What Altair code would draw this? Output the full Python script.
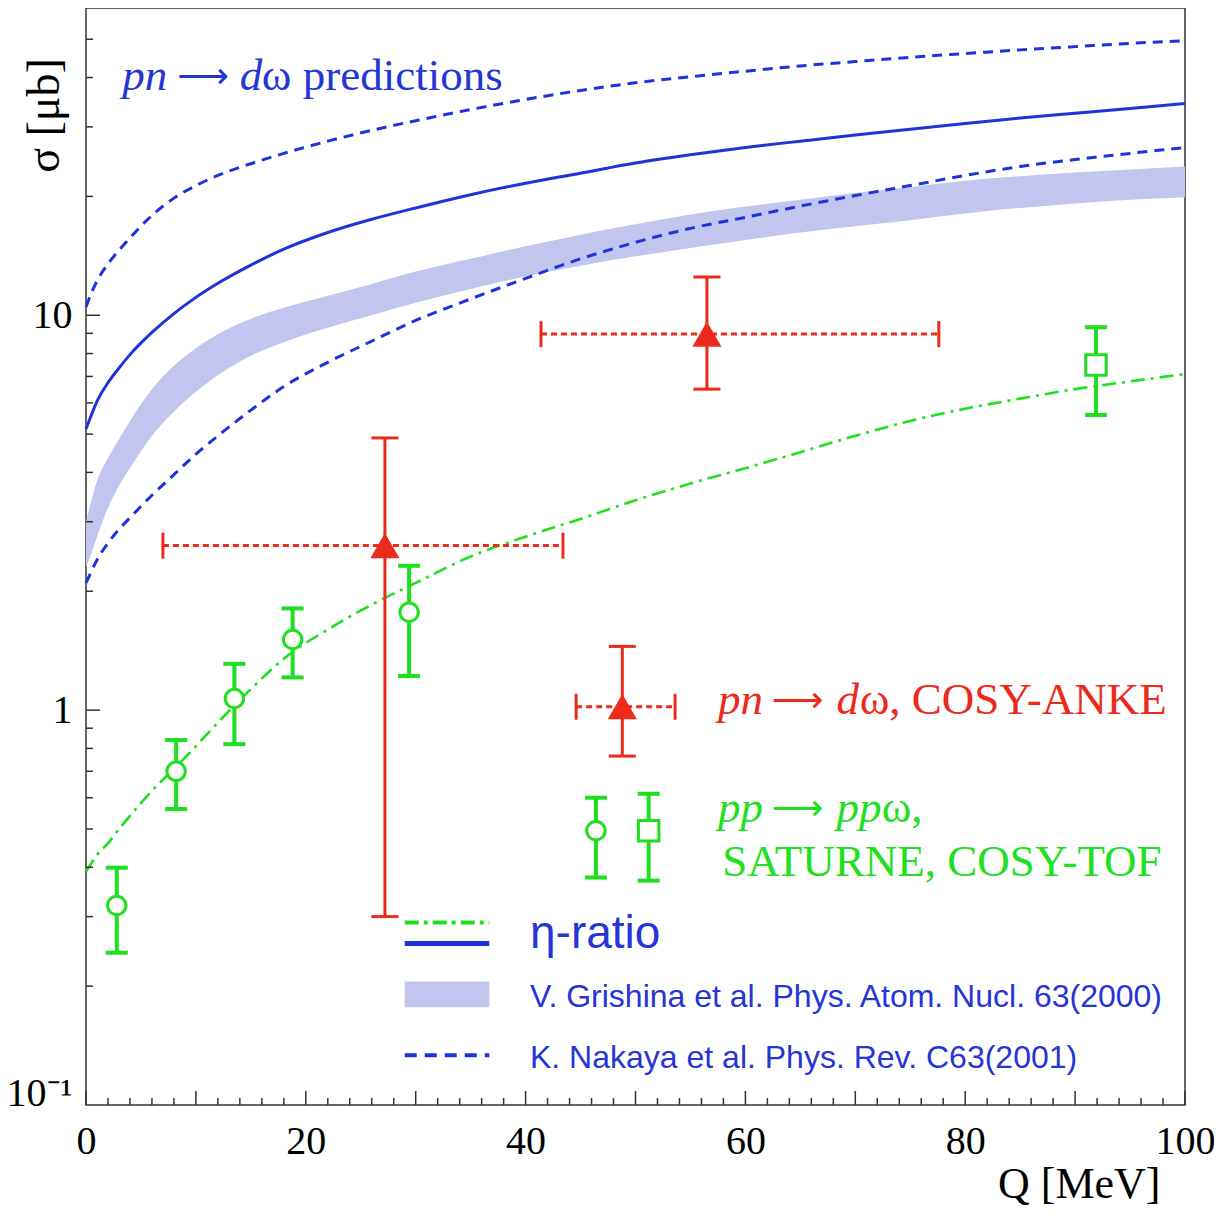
import altair as alt
import pandas as pd

# ---------------- data ----------------
Q_GRID = [0, 0.5, 1, 2, 3, 4, 6, 8, 10, 12, 15, 18, 22, 26, 30, 35, 40, 45, 50,
          55, 60, 65, 70, 75, 80, 85, 90, 95, 100]
NAKAYA_HI = [10.5, 11.4, 12.2, 13.5, 14.6, 15.7, 17.9, 19.8, 21.3, 22.6, 24.2, 25.7,
             27.6, 29.4, 31.1, 33.2, 35.2, 37.1, 38.8, 40.2, 41.5, 42.8, 43.9, 45.0,
             46.0, 47.0, 47.9, 48.8, 49.6]
NAKAYA_LO = [2.1, 2.25, 2.4, 2.65, 2.87, 3.07, 3.5, 3.95, 4.45, 4.95, 5.75, 6.6, 7.6,
             8.6, 9.7, 11.0, 12.4, 13.9, 15.3, 16.6, 17.7, 18.9, 20.1, 21.3, 22.6,
             23.8, 24.8, 25.7, 26.6]
ETA_RATIO_PN = [5.15, 5.6, 6.05, 6.75, 7.35, 7.95, 9.05, 10.1, 11.1, 12.05, 13.4, 14.7,
                16.2, 17.5, 18.7, 20.2, 21.6, 22.9, 24.3, 25.5, 26.6, 27.6, 28.6,
                29.6, 30.6, 31.6, 32.5, 33.4, 34.4]
GRISHINA_HI = [3.0, 3.4, 3.8, 4.35, 4.85, 5.4, 6.5, 7.45, 8.25, 8.95, 9.8, 10.45, 11.2,
               12.0, 12.9, 13.9, 14.95, 16.0, 17.0, 18.0, 18.85, 19.6, 20.4, 21.1,
               21.9, 22.5, 23.0, 23.4, 23.8]
GRISHINA_LO = [2.3, 2.5, 2.75, 3.25, 3.7, 4.1, 4.95, 5.7, 6.4, 7.05, 7.9, 8.55, 9.3,
               10.0, 10.75, 11.65, 12.55, 13.35, 14.1, 14.8, 15.5, 16.2, 16.8, 17.4,
               18.1, 18.7, 19.2, 19.6, 19.9]
ETA_RATIO_PP = [0.39, 0.41, 0.43, 0.46, 0.50, 0.54, 0.625, 0.71, 0.81, 0.93, 1.13,
                1.35, 1.6, 1.85, 2.1, 2.45, 2.75, 3.05, 3.4, 3.75, 4.1, 4.5, 4.95,
                5.4, 5.8, 6.15, 6.5, 6.8, 7.1]

SATURNE_Q = [2.8, 8.2, 13.5, 18.8, 29.4]
SATURNE_SIGMA = [0.32, 0.70, 1.07, 1.51, 1.77]
SATURNE_LO = [0.243, 0.562, 0.82, 1.21, 1.22]
SATURNE_HI = [0.399, 0.84, 1.31, 1.81, 2.32]

TOF_Q = [91.9]
TOF_SIGMA = [7.48]
TOF_LO = [5.59]
TOF_HI = [9.33]

ANKE_Q = [27.2, 56.5]
ANKE_SIGMA = [2.61, 8.96]
ANKE_LO = [0.30, 6.5]
ANKE_HI = [4.89, 12.5]
ANKE_QLO = [7.0, 41.4]
ANKE_QHI = [43.4, 77.6]

# legend sample symbols (in data units)
LEG_ANKE = dict(Q=48.8, sigma=1.02, lo=0.765, hi=1.45, qlo=44.6, qhi=53.6)
LEG_SATURNE = dict(Q=46.4, sigma=0.495, lo=0.377, hi=0.60)
LEG_TOF = dict(Q=51.2, sigma=0.495, lo=0.370, hi=0.614)
LEG_LINE_Q = [29.0, 36.7]
LEG_GREEN_Y = 0.29
LEG_BLUE_Y = 0.2565
LEG_DASH_Y = 0.1337
LEG_BAND_Y = [0.1768, 0.2056]

# texts
TEXT_SERIF_IT = [("pn", 3.3, 37.2, "blue"), ("d", 14.0, 37.2, "blue"),
                 ("pn", 57.5, 0.978, "red"), ("d", 68.3, 0.978, "red"),
                 ("pp", 57.5, 0.52, "green"), ("pp", 68.3, 0.52, "green")]
TEXT_SERIF = [("ω predictions", 16.0, 37.2, "blue"),
              ("ω, COSY-ANKE", 70.4, 0.978, "red"),
              ("ω,", 72.4, 0.52, "green"),
              ("SATURNE, COSY-TOF", 57.9, 0.381, "green")]
TEXT_ARROW = [("⟶", 8.3, 37.2, "blue"), ("⟶", 62.4, 0.978, "red"), ("⟶", 62.4, 0.52, "green")]
TEXT_SANS = [("η-ratio", 40.4, 0.2493, 46), ("V. Grishina et al. Phys. Atom. Nucl. 63(2000)", 40.4, 0.1768, 32),
             ("K. Nakaya et al. Phys. Rev. C63(2001)", 40.4, 0.124, 32)]

X_MAJOR = [0, 10, 20, 30, 40, 50, 60, 70, 80, 90, 100]
X_MINOR = [q for q in range(2, 100, 2) if q % 10 != 0]
Y_MAJOR = [1, 10]
Y_MINOR = [0.2, 0.3, 0.4, 0.5, 0.6, 0.7, 0.8, 0.9, 2, 3, 4, 5, 6, 7, 8, 9, 20, 30, 40, 50]

# ---------------- style ----------------
BLUE = "#1f33dc"
TXT_BLUE = "#2535d8"
RED = "#ec2a1c"
GREEN = "#1ee01e"
BAND = "#c2c5ee"
AXC = "#333333"
SERIF = "Liberation Serif"
SANS = "Liberation Sans"
COLORS = {"blue": TXT_BLUE, "red": RED, "green": GREEN}
W, H = 1099, 1097

XS = alt.Scale(domain=[0, 100], nice=False, zero=False)
YS = alt.Scale(type="log", domain=[0.1, 60], nice=False)

XAX = alt.Axis(values=[0, 20, 40, 60, 80, 100], labelFlush=False, ticks=False, domain=False,
               grid=False, labelFont=SERIF, labelFontSize=40, labelColor="black",
               labelPadding=16, title="Q [MeV]", titleFont=SERIF, titleFontSize=44,
               titleFontWeight="normal", titleColor="black", titleX=1074, titleY=92,
               titleAlign="right", titleBaseline="alphabetic", titleAnchor="end")
YAX = alt.Axis(values=[0.1, 1, 10],
               labelExpr="datum.value < 0.5 ? '10⁻¹' : (datum.value < 5 ? '1' : '10')",
               ticks=False, domain=False, grid=False, labelFont=SERIF, labelFontSize=40,
               labelColor="black", labelPadding=14, labelBaseline="middle",
               labelOffset={"condition": {"test": "datum.value < 0.5", "value": -12}, "value": 0},
               title="σ [μb]", titleFont=SERIF, titleFontSize=46, titleFontWeight="normal",
               titleColor="black", titleAngle=270, titleX=-28, titleY=107,
               titleAlign="center", titleBaseline="alphabetic")


def X(f):
    return alt.X(f, scale=XS, axis=XAX)


def Y(f):
    return alt.Y(f, scale=YS, axis=YAX)


# ---------------- tables ----------------
band_df = pd.DataFrame({"Q": Q_GRID, "lo": GRISHINA_LO, "hi": GRISHINA_HI})
nak_df = pd.concat([
    pd.DataFrame({"Q": Q_GRID, "v": NAKAYA_HI, "curve": "hi"}),
    pd.DataFrame({"Q": Q_GRID, "v": NAKAYA_LO, "curve": "lo"}),
])
pn_df = pd.DataFrame({"Q": Q_GRID, "v": ETA_RATIO_PN})
pp_df = pd.DataFrame({"Q": Q_GRID, "v": ETA_RATIO_PP})

anke_df = pd.DataFrame({
    "Q": ANKE_Q + [LEG_ANKE["Q"]], "sigma": ANKE_SIGMA + [LEG_ANKE["sigma"]],
    "lo": ANKE_LO + [LEG_ANKE["lo"]], "hi": ANKE_HI + [LEG_ANKE["hi"]],
    "qlo": ANKE_QLO + [LEG_ANKE["qlo"]], "qhi": ANKE_QHI + [LEG_ANKE["qhi"]]})
sat_df = pd.DataFrame({
    "Q": SATURNE_Q + [LEG_SATURNE["Q"]], "sigma": SATURNE_SIGMA + [LEG_SATURNE["sigma"]],
    "lo": SATURNE_LO + [LEG_SATURNE["lo"]], "hi": SATURNE_HI + [LEG_SATURNE["hi"]]})
tof_df = pd.DataFrame({
    "Q": TOF_Q + [LEG_TOF["Q"]], "sigma": TOF_SIGMA + [LEG_TOF["sigma"]],
    "lo": TOF_LO + [LEG_TOF["lo"]], "hi": TOF_HI + [LEG_TOF["hi"]]})
green_err = pd.concat([sat_df, tof_df])

leg_green = pd.DataFrame({"Q": LEG_LINE_Q, "v": [LEG_GREEN_Y] * 2})
leg_blue = pd.DataFrame({"Q": LEG_LINE_Q, "v": [LEG_BLUE_Y] * 2})
leg_dash = pd.DataFrame({"Q": LEG_LINE_Q, "v": [LEG_DASH_Y] * 2})
leg_band = pd.DataFrame({"Q": [LEG_LINE_Q[0]], "Q2": [LEG_LINE_Q[1]],
                         "lo": [LEG_BAND_Y[0]], "hi": [LEG_BAND_Y[1]]})

t_it = pd.DataFrame([{"t": t, "Q": q, "v": v, "c": COLORS[c]} for t, q, v, c in TEXT_SERIF_IT])
t_rm = pd.DataFrame([{"t": t, "Q": q, "v": v, "c": COLORS[c]} for t, q, v, c in TEXT_SERIF])
t_arrow = pd.DataFrame([{"t": t, "Q": q, "v": v, "c": COLORS[c]} for t, q, v, c in TEXT_ARROW])
t_sans = pd.DataFrame([{"t": t, "Q": q, "v": v, "fs": fs} for t, q, v, fs in TEXT_SANS])

# ---------------- layers ----------------
layers = []
layers.append(alt.Chart(band_df).mark_area(color=BAND, opacity=1, interpolate="monotone")
              .encode(x=X("Q:Q"), y=Y("lo:Q"), y2="hi:Q"))
layers.append(alt.Chart(nak_df).mark_line(color=BLUE, strokeWidth=3, strokeDash=[10, 7],
                                          interpolate="monotone")
              .encode(x=X("Q:Q"), y=Y("v:Q"), detail="curve:N"))
layers.append(alt.Chart(pn_df).mark_line(color=BLUE, strokeWidth=3, interpolate="monotone")
              .encode(x=X("Q:Q"), y=Y("v:Q")))
layers.append(alt.Chart(pp_df).mark_line(color=GREEN, strokeWidth=2.6, strokeDash=[14, 6, 3, 6],
                                         interpolate="monotone")
              .encode(x=X("Q:Q"), y=Y("v:Q")))

# legend samples
layers.append(alt.Chart(leg_band).mark_rect(color=BAND, opacity=1)
              .encode(x=X("Q:Q"), x2="Q2:Q", y=Y("lo:Q"), y2="hi:Q"))
layers.append(alt.Chart(leg_green).mark_line(color=GREEN, strokeWidth=4, strokeDash=[14, 5, 4, 5])
              .encode(x=X("Q:Q"), y=Y("v:Q")))
layers.append(alt.Chart(leg_blue).mark_line(color=BLUE, strokeWidth=5)
              .encode(x=X("Q:Q"), y=Y("v:Q")))
layers.append(alt.Chart(leg_dash).mark_line(color=BLUE, strokeWidth=4, strokeDash=[12, 8])
              .encode(x=X("Q:Q"), y=Y("v:Q")))

# ANKE error bars
layers.append(alt.Chart(anke_df).mark_rule(color=RED, strokeWidth=3, strokeDash=[6, 4])
              .encode(x=X("qlo:Q"), x2="qhi:Q", y=Y("sigma:Q")))
for f in ["qlo", "qhi"]:
    layers.append(alt.Chart(anke_df).mark_tick(color=RED, orient="vertical", size=26,
                                               thickness=3, opacity=1)
                  .encode(x=X(f + ":Q"), y=Y("sigma:Q")))
layers.append(alt.Chart(anke_df).mark_rule(color=RED, strokeWidth=3)
              .encode(x=X("Q:Q"), y=Y("lo:Q"), y2="hi:Q"))
for f in ["lo", "hi"]:
    layers.append(alt.Chart(anke_df).mark_tick(color=RED, orient="horizontal", size=27,
                                               thickness=3, opacity=1)
                  .encode(x=X("Q:Q"), y=Y(f + ":Q")))
layers.append(alt.Chart(anke_df).mark_point(shape="triangle-up", filled=True, color=RED,
                                            size=850, opacity=1)
              .encode(x=X("Q:Q"), y=Y("sigma:Q")))

# green error bars
layers.append(alt.Chart(green_err).mark_rule(color=GREEN, strokeWidth=4)
              .encode(x=X("Q:Q"), y=Y("lo:Q"), y2="hi:Q"))
for f in ["lo", "hi"]:
    layers.append(alt.Chart(green_err).mark_tick(color=GREEN, orient="horizontal", size=22,
                                                 thickness=4, opacity=1)
                  .encode(x=X("Q:Q"), y=Y(f + ":Q")))
layers.append(alt.Chart(sat_df).mark_point(shape="circle", filled=True, fill="white",
                                           stroke=GREEN, strokeWidth=3, size=340, opacity=1)
              .encode(x=X("Q:Q"), y=Y("sigma:Q")))
layers.append(alt.Chart(tof_df).mark_point(shape="square", filled=True, fill="white",
                                           stroke=GREEN, strokeWidth=3, size=420, opacity=1)
              .encode(x=X("Q:Q"), y=Y("sigma:Q")))

# texts
layers.append(alt.Chart(t_it).mark_text(font=SERIF, fontStyle="italic", fontSize=45,
                                        align="left", baseline="alphabetic")
              .encode(x=X("Q:Q"), y=Y("v:Q"), text="t:N", color=alt.Color("c:N", scale=None)))
layers.append(alt.Chart(t_rm).mark_text(font=SERIF, fontSize=45, align="left",
                                        baseline="alphabetic")
              .encode(x=X("Q:Q"), y=Y("v:Q"), text="t:N", color=alt.Color("c:N", scale=None)))
layers.append(alt.Chart(t_arrow).mark_text(font="DejaVu Sans", fontSize=36, align="left",
                                           baseline="alphabetic", dy=-2)
              .encode(x=X("Q:Q"), y=Y("v:Q"), text="t:N", color=alt.Color("c:N", scale=None)))
layers.append(alt.Chart(t_sans).mark_text(font=SANS, color=TXT_BLUE, align="left",
                                          baseline="alphabetic")
              .encode(x=X("Q:Q"), y=Y("v:Q"), text="t:N", size=alt.Size("fs:Q", scale=None)))

# inward axis ticks
for vals, ln in [(X_MAJOR, 14), (X_MINOR, 7)]:
    layers.append(alt.Chart(pd.DataFrame({"Q": vals})).mark_rule(color=AXC, strokeWidth=1.5)
                  .encode(x=X("Q:Q"), y=alt.value(H), y2=alt.value(H - ln)))
for vals, ln in [(Y_MAJOR, 14), (Y_MINOR, 7)]:
    layers.append(alt.Chart(pd.DataFrame({"v": vals})).mark_rule(color=AXC, strokeWidth=1.5)
                  .encode(y=Y("v:Q"), x=alt.value(0), x2=alt.value(ln)))

chart = (alt.layer(*layers)
         .properties(width=W, height=H, autosize=alt.AutoSizeParams(type="none"),
                     padding={"left": 78, "top": 0, "right": 29, "bottom": 104})
         .configure(background="white")
         .configure_view(stroke=AXC, strokeWidth=1.5))

chart.save("out.html", embed_options={"renderer": "svg", "actions": False})
